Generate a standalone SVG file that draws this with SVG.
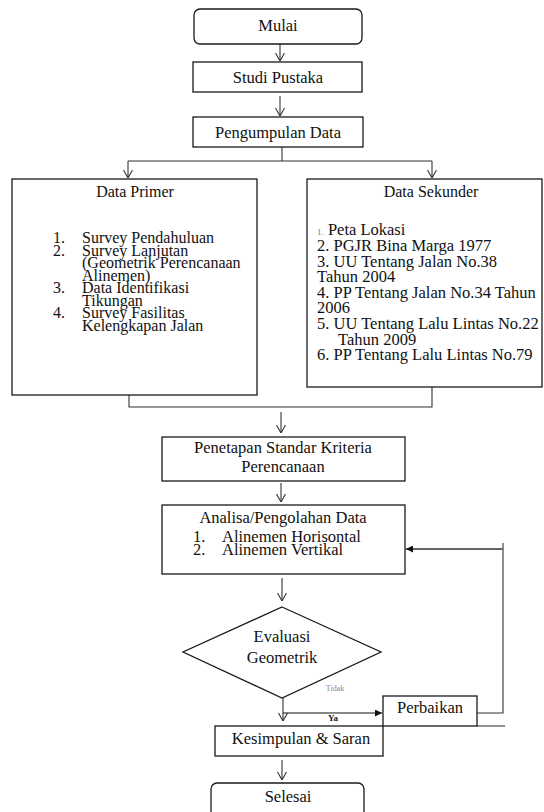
<svg xmlns="http://www.w3.org/2000/svg" width="544" height="812" viewBox="0 0 544 812" font-family="'Liberation Serif', 'Times New Roman', serif">
<style>
.box{fill:#fff;stroke:#1a1a1a;stroke-width:1.3}
.ln{fill:none;stroke:#333;stroke-width:1.1}
.t{font-family:'Liberation Serif','Times New Roman',Times,serif;font-size:16.5px;fill:#111}
.c{text-anchor:middle}
.p{font-size:16px}
.small{font-size:8px;fill:#888}
.ya{font-size:9px;font-weight:bold;fill:#222}
</style>
<defs>
<marker id="open" viewBox="0 0 8 10" refX="8" refY="5" markerWidth="8" markerHeight="10" markerUnits="userSpaceOnUse" orient="auto">
<path d="M0,0.5 L8,5 L0,9.5" fill="none" stroke="#333" stroke-width="1.1"/>
</marker>
<marker id="solid" viewBox="0 0 8 8" refX="8" refY="4" markerWidth="7" markerHeight="7" markerUnits="userSpaceOnUse" orient="auto">
<path d="M0,0 L8,4 L0,8 Z" fill="#111"/>
</marker>
</defs>
<rect width="544" height="812" fill="#fff"/>
<g id="connectors">
<line class="ln" x1="280" y1="44" x2="280" y2="61" marker-end="url(#open)"/>
<line class="ln" x1="280" y1="96" x2="280" y2="116" marker-end="url(#open)"/>
<polyline class="ln" points="282,147 282,161"/>
<polyline class="ln" points="128,161 432,161"/>
<line class="ln" x1="128" y1="161" x2="128" y2="178" marker-end="url(#open)"/>
<line class="ln" x1="432" y1="161" x2="432" y2="178" marker-end="url(#open)"/>
<polyline class="ln" points="129,395 129,407 432,407 432,387"/>
<line class="ln" x1="281" y1="412" x2="281" y2="433" marker-end="url(#open)"/>
<line class="ln" x1="281" y1="483" x2="281" y2="502" marker-end="url(#open)"/>
<line class="ln" x1="282" y1="578" x2="282" y2="601" marker-end="url(#open)"/>
<line class="ln" x1="283" y1="698" x2="283" y2="721" marker-end="url(#open)"/>
<line x1="283" y1="713" x2="382" y2="713" stroke="#111" stroke-width="1.2" marker-end="url(#solid)"/>
<polyline class="ln" points="477,713 503,713 503,543"/>
<line x1="503" y1="549" x2="406" y2="549" stroke="#666" stroke-width="2" marker-end="url(#solid)"/>
<line class="ln" x1="477" y1="726" x2="505" y2="726"/>
<line class="ln" x1="282" y1="760" x2="282" y2="780" marker-end="url(#open)"/>
<text class="t small" x="335" y="691" text-anchor="middle">Tidak</text>
<text class="t ya" x="333" y="721" text-anchor="middle">Ya</text>
</g>
<g id="mulai">
<rect class="box" x="194" y="9" width="168" height="35" rx="6"/>
<text class="t c" x="278" y="31">Mulai</text>
</g>
<g id="studi-pustaka">
<rect class="box" x="193" y="62" width="169" height="30"/>
<text class="t c" x="278" y="83">Studi Pustaka</text>
</g>
<g id="pengumpulan-data">
<rect class="box" x="193" y="117" width="170" height="30"/>
<text class="t c" x="278" y="138">Pengumpulan Data</text>
</g>
<g id="data-primer">
<rect class="box" x="12" y="179" width="245" height="216"/>
<text class="t p c" x="135" y="197">Data Primer</text>
<g class="t p">
<text x="53" y="243">1.</text><text x="82" y="243">Survey Pendahuluan</text>
<text x="53" y="255.5">2.</text><text x="82" y="255.5">Survey Lanjutan</text>
<text x="82" y="268">(Geometrik Perencanaan</text>
<text x="82" y="280.5">Alinemen)</text>
<text x="53" y="293">3.</text><text x="82" y="293">Data Identifikasi</text>
<text x="82" y="305.5">Tikungan</text>
<text x="53" y="318">4.</text><text x="82" y="318">Survey Fasilitas</text>
<text x="82" y="330.5">Kelengkapan Jalan</text>
</g>
</g>
<g id="data-sekunder">
<rect class="box" x="307" y="179" width="235" height="208"/>
<text class="t p c" x="431" y="197">Data Sekunder</text>
<g class="t">
<text x="317" y="235"><tspan font-size="9px" fill="#777">1.</tspan> Peta Lokasi</text>
<text x="317" y="251">2. PGJR Bina Marga 1977</text>
<text x="317" y="267">3. UU Tentang Jalan No.38</text>
<text x="317" y="282">Tahun 2004</text>
<text x="317" y="298">4. PP Tentang Jalan No.34 Tahun</text>
<text x="317" y="313">2006</text>
<text x="317" y="329">5. UU Tentang Lalu Lintas No.22</text>
<text x="338" y="345">Tahun 2009</text>
<text x="317" y="360">6. PP Tentang Lalu Lintas No.79</text>
</g>
</g>
<g id="penetapan">
<rect class="box" x="162" y="437" width="243" height="44"/>
<text class="t c" x="283" y="453">Penetapan Standar Kriteria</text>
<text class="t c" x="283" y="472">Perencanaan</text>
</g>
<g id="analisa">
<rect class="box" x="162" y="505" width="243" height="69"/>
<text class="t c" x="283" y="523">Analisa/Pengolahan Data</text>
<text class="t" x="193" y="542">1.</text><text class="t" x="222" y="542">Alinemen Horisontal</text>
<text class="t" x="193" y="555">2.</text><text class="t" x="222" y="555">Alinemen Vertikal</text>
</g>
<g id="evaluasi">
<polygon class="box" points="282,607 381,652 282,698 183,652"/>
<text class="t c" x="282" y="642">Evaluasi</text>
<text class="t c" x="282" y="663">Geometrik</text>
</g>
<g id="perbaikan">
<rect class="box" x="383" y="696" width="94" height="30"/>
<text class="t c" x="430" y="713">Perbaikan</text>
</g>
<g id="kesimpulan">
<rect class="box" x="215" y="726" width="168" height="30"/>
<text class="t c" x="301" y="744">Kesimpulan &amp; Saran</text>
</g>
<g id="selesai">
<rect class="box" x="211" y="783" width="153" height="40" rx="6"/>
<text class="t c" x="288" y="802">Selesai</text>
</g>
</svg>
